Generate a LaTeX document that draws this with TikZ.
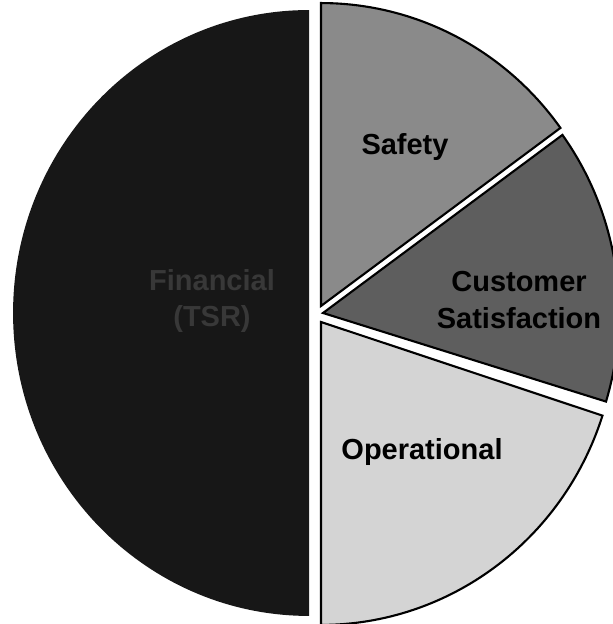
\documentclass[tikz,border=0pt]{standalone}
\usepackage{fontspec}
\setmainfont{Liberation Sans}
\tikzset{
  slice/.style={draw=black, line width=1.2pt, line join=miter},
  lbl/.style={font=\bfseries\fontsize{16.5}{21}\selectfont, align=center, inner sep=0pt},
}
\definecolor{finc}{gray}{0.09}
\definecolor{finText}{gray}{0.22}
\definecolor{safc}{gray}{0.54}
\definecolor{cusc}{gray}{0.37}
\definecolor{opc}{gray}{0.83}
\begin{document}
\begin{tikzpicture}[x=0.02cm,y=0.02cm]
\useasboundingbox (0,0) rectangle (612,624);
% Financial (TSR)
\coordinate (fin) at (309,311);
\fill[finc] (fin) -- ++(90:5.92cm and 6.06cm) arc[start angle=90, end angle=270, x radius=5.92cm, y radius=6.06cm] -- cycle;
% Safety
\coordinate (saf) at (321,318);
\filldraw[slice, fill=safc] (saf) -- ++(36:5.92cm and 6.06cm) arc[start angle=36, end angle=90, x radius=5.92cm, y radius=6.06cm] -- cycle;
% Customer Satisfaction
\coordinate (cus) at (323,311);
\filldraw[slice, fill=cusc] (cus) -- ++(-17:5.92cm and 6.06cm) arc[start angle=-17, end angle=36, x radius=5.92cm, y radius=6.06cm] -- cycle;
% Operational
\coordinate (ope) at (321,302);
\filldraw[slice, fill=opc] (ope) -- ++(-90:5.92cm and 6.06cm) arc[start angle=-90, end angle=-18, x radius=5.92cm, y radius=6.06cm] -- cycle;
% labels
\node[lbl, text=finText] (finlbl) at (212,323) {Financial\\(TSR)};
\node[lbl] (saflbl) at (405,477) {Safety};
\node[lbl] (cuslbl) at (519,324) {Customer\\Satisfaction};
\node[lbl] (oplbl) at (422,172) {Operational};
\end{tikzpicture}
\end{document}
